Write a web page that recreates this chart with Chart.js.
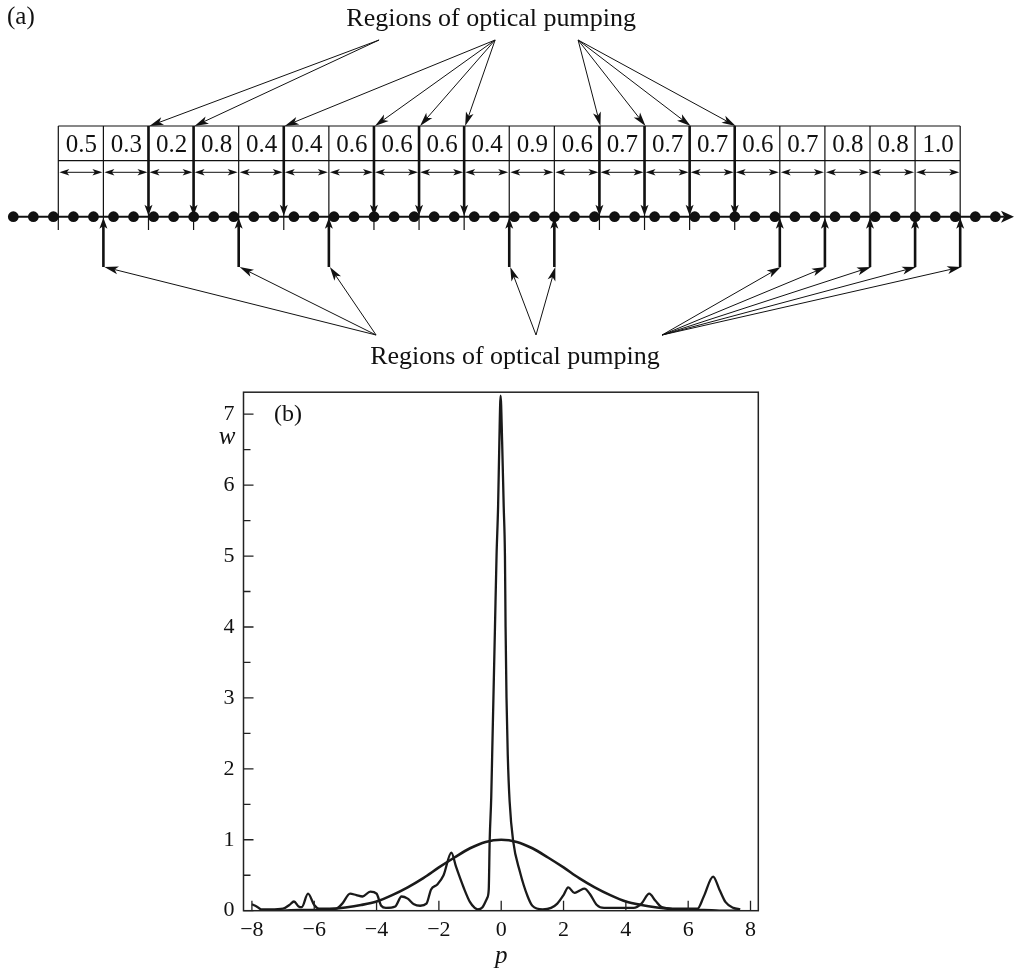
<!DOCTYPE html>
<html>
<head>
<meta charset="utf-8">
<script src="https://cdn.jsdelivr.net/npm/chart.js@4.4.0/dist/chart.umd.min.js"></script>
<style>
  html, body { margin: 0; padding: 0; background: #fff; }
  #wrap { position: relative; width: 1014px; height: 971px; }
  canvas { position: absolute; left: 0; }
  #lattice { top: 0; }
  #dist { top: 370px; }
</style>
</head>
<body>
<div id="wrap">
  <canvas id="lattice" width="1014" height="370"></canvas>
  <canvas id="dist" width="1014" height="601"></canvas>
</div>
<script>
// ---- panel (a): lattice sites and cell values ----
const sites = [0,1,2,3,4,5,6,7,8,9,10,11,12,13,14,15,16,17,18,19,20,21,22,23,24,
  25,26,27,28,29,30,31,32,33,34,35,36,37,38,39,40,41,42,43,44,45,46,47,48,49];
const cellValues = [0.5, 0.3, 0.2, 0.8, 0.4, 0.4, 0.6, 0.6, 0.6, 0.4,
  0.9, 0.6, 0.7, 0.7, 0.7, 0.6, 0.7, 0.8, 0.8, 1.0];
// cell borders that are pumped, grouped by label arrow bundle
const pumpAbove = [[2, 3], [5, 7, 8, 9], [12, 13, 14, 15]];
const pumpBelow = [[1, 4, 6], [10, 11], [16, 17, 18, 19, 20]];

// ---- panel (b): distribution w(p) ----
const pOsc = [-8.0, -7.85, -7.7, -7.4, -7.0, -6.8, -6.65, -6.5, -6.4, -6.2, -6.0, -5.85, -5.3, -5.1,
  -4.85, -4.65, -4.45, -4.2, -4.0, -3.85, -3.7, -3.4, -3.2, -3.0, -2.8, -2.6, -2.4, -2.25, -2.05,
  -1.85, -1.6, -1.45, -1.2, -1.0, -0.85, -0.75, -0.6, -0.45, -0.4, -0.37, -0.32, -0.29, -0.25,
  -0.2, -0.15, -0.1, -0.06, -0.02, 0.03, 0.08, 0.12, 0.14, 0.17, 0.21, 0.27, 0.38, 0.6, 0.85, 1.0,
  1.33, 1.6, 1.8, 2.0, 2.15, 2.35, 2.5, 2.67, 2.84, 3.07, 3.3, 4.25, 4.5, 4.75, 4.95, 5.15,
  5.5, 6.3, 6.5, 6.8, 7.0, 7.2, 7.45, 7.67];
const wOsc = [0.09, 0.06, 0.02, 0.02, 0.03, 0.08, 0.13, 0.06, 0.05, 0.24, 0.08, 0.03, 0.03, 0.1,
  0.24, 0.22, 0.2, 0.27, 0.24, 0.07, 0.04, 0.06, 0.2, 0.17, 0.09, 0.07, 0.1, 0.3, 0.37,
  0.5, 0.82, 0.62, 0.32, 0.12, 0.04, 0.02, 0.05, 0.18, 0.3, 0.99, 1.6, 2.2, 3.0,
  4.0, 5.0, 5.7, 6.6, 7.26, 6.6, 5.7, 5.0, 4.0, 3.0, 2.2, 1.54, 0.99, 0.55, 0.2, 0.07,
  0.02, 0.04, 0.1, 0.22, 0.33, 0.25, 0.28, 0.31, 0.24, 0.08, 0.04, 0.04, 0.1, 0.24, 0.14, 0.05,
  0.03, 0.03, 0.2, 0.48, 0.3, 0.12, 0.04, 0.02];
const pGauss = [-7.5, -7.0, -6.5, -6.0, -5.5, -5.0, -4.5, -4.0, -3.5, -3.0, -2.5, -2.0, -1.5, -1.0, -0.5,
  0.0, 0.5, 1.0, 1.5, 2.0, 2.5, 3.0, 3.5, 4.0, 4.5, 5.0, 5.5, 6.0, 6.5, 7.0, 7.6];
const wGauss = [0.0, 0.0, 0.01, 0.01, 0.02, 0.045, 0.08, 0.13, 0.22, 0.33, 0.46, 0.61, 0.75, 0.88, 0.97,
  1.0, 0.97, 0.88, 0.75, 0.61, 0.46, 0.33, 0.22, 0.13, 0.08, 0.045, 0.02, 0.01, 0.01, 0.0, 0.0];

const INK = '#111';
const SERIF = '"Liberation Serif", "DejaVu Serif", serif';

// rows of the schematic (pixels from top of panel a)
const ROW = { cellTop: 126, cellText: 152, cellBase: 160.7, span: 172.3, lattice: 216.7,
  borderEnd: 230, pumpEnd: 267, labelTop: 26, fanTop: 40, fanBottom: 335, labelBottom: 364 };
const cellStart = 2.245, cellWidth = 2.25;   // in site units
const fanAboveX = [18.25, 24.04, 28.18];
const fanBelowX = [18.1, 26.08, 32.37];

function head(ctx, x, y, ang, len, half) {
  ctx.save();
  ctx.translate(x, y);
  ctx.rotate(ang);
  ctx.beginPath();
  ctx.moveTo(0, 0);
  ctx.lineTo(-len, -half);
  ctx.lineTo(-len * 0.75, 0);
  ctx.lineTo(-len, half);
  ctx.closePath();
  ctx.fill();
  ctx.restore();
}

function arrow(ctx, x0, y0, x1, y1, len, half) {
  const ang = Math.atan2(y1 - y0, x1 - x0);
  ctx.beginPath();
  ctx.moveTo(x0, y0);
  ctx.lineTo(x1 - Math.cos(ang) * len * 0.75, y1 - Math.sin(ang) * len * 0.75);
  ctx.stroke();
  head(ctx, x1, y1, ang, len, half);
}

const latticeDecor = {
  id: 'latticeDecor',
  beforeDatasetsDraw(chart) {
    const { ctx, scales: { x, y } } = chart;
    ctx.save();
    ctx.strokeStyle = INK;
    ctx.fillStyle = INK;
    ctx.lineWidth = 2;
    const ly = y.getPixelForValue(ROW.lattice);
    ctx.beginPath();
    ctx.moveTo(x.getPixelForValue(sites[0]), ly);
    ctx.lineTo(1004, ly);
    ctx.stroke();
    head(ctx, 1014, ly, 0, 13, 6);
    ctx.restore();
  },
  afterDatasetsDraw(chart) {
    const { ctx, scales: { x, y } } = chart;
    const bx = k => x.getPixelForValue(cellStart + k * cellWidth);
    const n = cellValues.length;
    ctx.save();
    ctx.strokeStyle = INK;
    ctx.fillStyle = INK;

    // cell frame and borders
    ctx.lineWidth = 1.2;
    ctx.beginPath();
    [ROW.cellTop, ROW.cellBase].forEach(r => {
      ctx.moveTo(bx(0), y.getPixelForValue(r));
      ctx.lineTo(bx(n), y.getPixelForValue(r));
    });
    for (let k = 0; k <= n; k++) {
      ctx.moveTo(bx(k), y.getPixelForValue(ROW.cellTop));
      ctx.lineTo(bx(k), y.getPixelForValue(ROW.borderEnd));
    }
    ctx.stroke();

    // cell values and span arrows
    ctx.font = '25px ' + SERIF;
    ctx.textAlign = 'center';
    ctx.textBaseline = 'alphabetic';
    const sy = y.getPixelForValue(ROW.span);
    ctx.lineWidth = 1;
    cellValues.forEach((v, k) => {
      ctx.fillText(v.toFixed(1), (bx(k) + bx(k + 1)) / 2 + 0.5, y.getPixelForValue(ROW.cellText));
      const a = bx(k) + 1, b = bx(k + 1) - 1;
      ctx.beginPath();
      ctx.moveTo(a + 6, sy);
      ctx.lineTo(b - 6, sy);
      ctx.stroke();
      head(ctx, a, sy, Math.PI, 10, 3.2);
      head(ctx, b, sy, 0, 10, 3.2);
    });

    // pumping from above
    const top = y.getPixelForValue(ROW.cellTop);
    const lat = y.getPixelForValue(ROW.lattice);
    const bot = y.getPixelForValue(ROW.pumpEnd);
    pumpAbove.forEach((group, g) => {
      group.forEach(k => {
        ctx.lineWidth = 2.6;
        arrow(ctx, bx(k), top, bx(k), lat - 1, 11, 4);
        ctx.lineWidth = 1;
        arrow(ctx, x.getPixelForValue(fanAboveX[g]), y.getPixelForValue(ROW.fanTop), bx(k) + 1, top, 14, 4);
      });
    });
    // pumping from below
    pumpBelow.forEach((group, g) => {
      group.forEach(k => {
        ctx.lineWidth = 2.6;
        arrow(ctx, bx(k), bot, bx(k), lat + 1, 11, 4);
        ctx.lineWidth = 1;
        arrow(ctx, x.getPixelForValue(fanBelowX[g]), y.getPixelForValue(ROW.fanBottom), bx(k) + 1, bot, 14, 4);
      });
    });

    // labels
    ctx.font = '26px ' + SERIF;
    ctx.textAlign = 'center';
    ctx.fillText('Regions of optical pumping', x.getPixelForValue(23.84), y.getPixelForValue(ROW.labelTop));
    ctx.fillText('Regions of optical pumping', x.getPixelForValue(25.03), y.getPixelForValue(ROW.labelBottom));
    ctx.textAlign = 'left';
    ctx.font = '25px ' + SERIF;
    ctx.fillText('(a)', 7, 24);
    ctx.restore();
  }
};

new Chart(document.getElementById('lattice'), {
  type: 'scatter',
  data: {
    datasets: [{
      data: sites.map(s => ({ x: s, y: ROW.lattice })),
      pointRadius: 5.4,
      pointBackgroundColor: INK,
      pointBorderWidth: 0
    }]
  },
  options: {
    responsive: false,
    animation: false,
    events: [],
    layout: { padding: 0, autoPadding: false },
    plugins: { legend: { display: false }, tooltip: { enabled: false } },
    scales: {
      x: { type: 'linear', min: -0.664, max: 49.93, display: false },
      y: { type: 'linear', min: 0, max: 370, reverse: true, display: false }
    }
  },
  plugins: [latticeDecor]
});

// ---- panel (b) ----
const frameTicks = {
  id: 'frameTicks',
  afterDraw(chart) {
    const { ctx, chartArea: a, scales: { x, y } } = chart;
    ctx.save();
    ctx.strokeStyle = '#222';
    ctx.lineWidth = 1.5;
    ctx.strokeRect(a.left, a.top, a.right - a.left, a.bottom - a.top);
    ctx.lineWidth = 1.3;
    ctx.beginPath();
    for (let v = 0; v <= y.max; v += 0.5) {
      const py = y.getPixelForValue(v);
      const len = Number.isInteger(v) ? 10 : 7;
      ctx.moveTo(a.left, py);
      ctx.lineTo(a.left + len, py);
    }
    x.ticks.forEach(t => {
      const px = x.getPixelForValue(t.value);
      ctx.moveTo(px, a.bottom);
      ctx.lineTo(px, a.bottom - 10);
    });
    ctx.stroke();
    ctx.fillStyle = INK;
    ctx.font = 'italic 25px ' + SERIF;
    ctx.textAlign = 'center';
    ctx.textBaseline = 'alphabetic';
    ctx.fillText('w', 227, 444 - 370);
    ctx.fillText('p', x.getPixelForValue(0), 963 - 370);
    ctx.font = '24px ' + SERIF;
    ctx.fillText('(b)', 288, 421 - 370);
    ctx.restore();
  }
};

const minus = v => (v < 0 ? '\u2212' + Math.abs(v) : String(v));

new Chart(document.getElementById('dist'), {
  type: 'scatter',
  data: {
    datasets: [
      {
        data: pGauss.map((p, i) => ({ x: p, y: wGauss[i] })),
        showLine: true, pointRadius: 0, borderColor: '#1a1a1a', borderWidth: 2.6,
        cubicInterpolationMode: 'monotone'
      },
      {
        data: pOsc.map((p, i) => ({ x: p, y: wOsc[i] })),
        showLine: true, pointRadius: 0, borderColor: '#1a1a1a', borderWidth: 2.3,
        cubicInterpolationMode: 'monotone'
      }
    ]
  },
  options: {
    responsive: false,
    animation: false,
    events: [],
    layout: { padding: { top: 16, right: 255.7, left: 0, bottom: 0 }, autoPadding: false },
    plugins: { legend: { display: false }, tooltip: { enabled: false } },
    scales: {
      x: {
        type: 'linear', min: -8.27, max: 8.25,
        grid: { display: false, drawTicks: false },
        border: { display: false },
        ticks: { stepSize: 2, includeBounds: false, padding: 6, color: INK,
          font: { family: SERIF, size: 22 }, callback: minus, maxRotation: 0 },
        afterFit: s => { s.height = 60.3; }
      },
      y: {
        type: 'linear', min: 0, max: 7.31,
        grid: { display: false, drawTicks: false },
        border: { display: false },
        ticks: { stepSize: 1, includeBounds: false, padding: 9, color: INK,
          font: { family: SERIF, size: 22 } },
        afterFit: s => { s.width = 243.5; }
      }
    }
  },
  plugins: [frameTicks]
});
</script>
</body>
</html>
